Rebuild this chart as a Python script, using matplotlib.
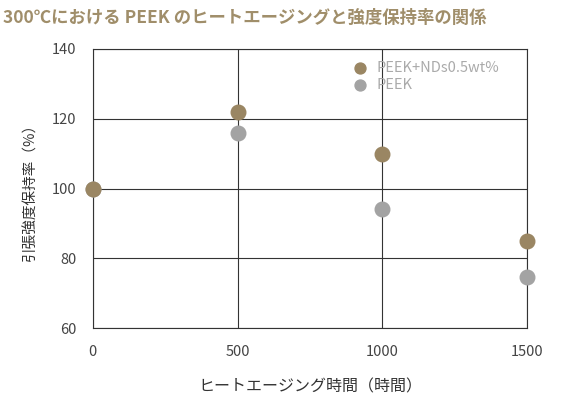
import matplotlib
matplotlib.use("Agg")
import matplotlib.pyplot as plt

plt.rcParams['font.family'] = ['Noto Sans CJK JP', 'DejaVu Sans']

hours = [0, 500, 1000, 1500]
nds = [100, 122, 110, 85]
peek = [100, 116, 94, 74.5]
xticks = [0, 500, 1000, 1500]
yticks = [60, 80, 100, 120, 140]

fig = plt.figure(figsize=(5.8, 4.0), dpi=100)
ax = fig.add_axes([0.160, 0.18, 0.749, 0.6975])
ax.set_xlim(0, 1500)
ax.set_ylim(60, 140)
ax.set_xticks(xticks)
ax.set_yticks(yticks)
ax.grid(True, color='#333333', linewidth=0.8)
for s in ax.spines.values():
    s.set_color('#333333'); s.set_linewidth(0.8)
ax.tick_params(length=0, pad=12, labelsize=10.5, colors='#444444')
ax.scatter(hours, peek, s=110, color='#a3a3a3', zorder=3, clip_on=False, label='PEEK')
ax.scatter(hours, nds, s=110, color='#9a8663', zorder=4, clip_on=False, label='PEEK+NDs0.5wt%')
h, l = ax.get_legend_handles_labels()
leg = ax.legend(h[::-1], l[::-1], loc='upper left', bbox_to_anchor=(0.555, 1.0), frameon=False,
                handletextpad=0.1, labelspacing=0.2, markerscale=0.75, fontsize=10.5, borderpad=0.3)
for t in leg.get_texts():
    t.set_color('#aaaaaa')
ax.set_xlabel('ヒートエージング時間（時間）', fontsize=11.5, color='#333333', labelpad=14)
ax.set_ylabel('引張強度保持率（%）', fontsize=10.5, color='#333333', labelpad=10)
fig.text(0.005, 0.955, '300℃における PEEK のヒートエージングと強度保持率の関係', fontsize=12.5,
         fontweight='bold', color='#a08e6a', va='center')
fig.savefig('out.png')
